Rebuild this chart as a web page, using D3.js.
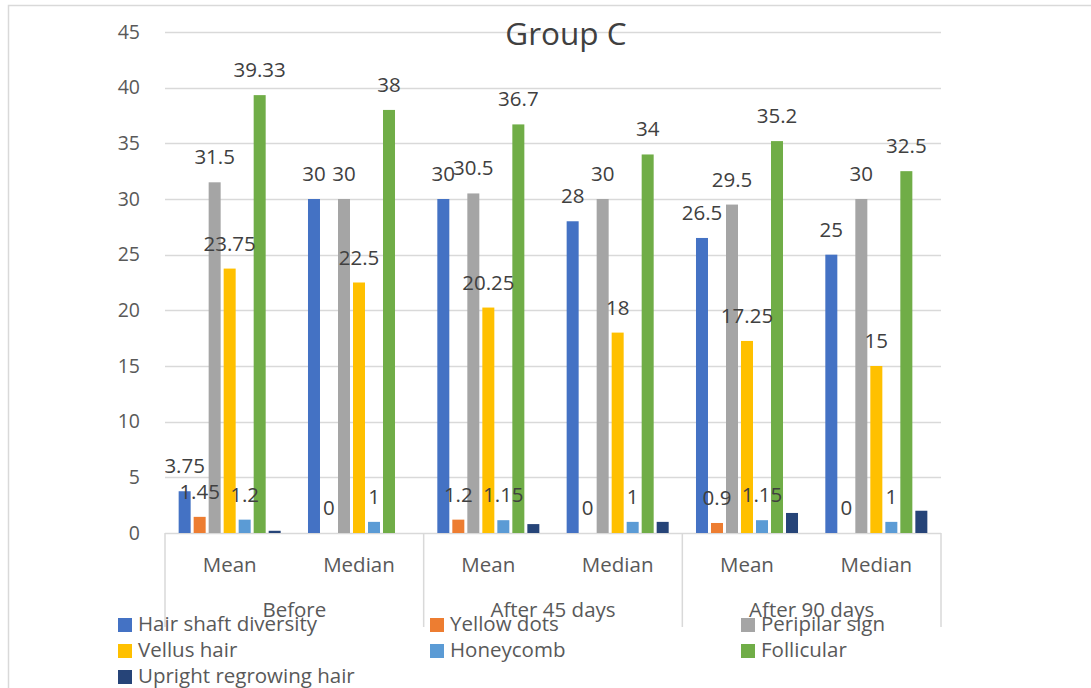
<!DOCTYPE html>
<html><head><meta charset="utf-8">
<script src="https://cdn.jsdelivr.net/npm/d3@7"></script>
<style>body{margin:0;background:#fff;}svg{display:block;font-family:"Open Sans",sans-serif;}</style>
</head><body><svg id="c" width="1091" height="688"></svg>
<script>
const groups = ["Before", "After 45 days", "After 90 days"];
const stats = ["Mean", "Median"];
const seriesNames = ["Hair shaft diversity", "Yellow dots", "Peripilar sign", "Vellus hair", "Honeycomb", "Follicular", "Upright regrowing hair"];
const seriesColors = ["#4472C4", "#ED7D31", "#A5A5A5", "#FFC000", "#5B9BD5", "#70AD47", "#264478"];
const hairShaft  = [3.75, 30, 30, 28, 26.5, 25];
const yellowDots = [1.45, 0, 1.2, 0, 0.9, 0];
const peripilar  = [31.5, 30, 30.5, 30, 29.5, 30];
const vellus     = [23.75, 22.5, 20.25, 18, 17.25, 15];
const honeycomb  = [1.2, 1, 1.15, 1, 1.15, 1];
const follicular = [39.33, 38, 36.7, 34, 35.2, 32.5];
const upright    = [0.2, 0, 0.8, 1, 1.8, 2];
const showLabel  = [true, true, true, true, true, true, false];
const yTicks = [0, 5, 10, 15, 20, 25, 30, 35, 40, 45];

const seriesValues = [hairShaft, yellowDots, peripilar, vellus, honeycomb, follicular, upright];
const cats = [];
groups.forEach(g => stats.forEach(s => cats.push(g + "|" + s)));

const svg = d3.select("#c");
const L = 165, R = 941, T = 32, B = 533;

svg.append("rect").attr("x", 8.5).attr("y", 5.5).attr("width", 1100).attr("height", 700)
  .attr("fill", "none").attr("stroke", "#d9d9d9").attr("stroke-width", 1.5);

const y = d3.scaleLinear().domain([0, 45]).range([B, T]);
const x0 = d3.scaleBand().domain(cats).range([L, R]).padding(0);
const x1 = d3.scaleBand().domain(seriesNames).range([0, x0.bandwidth()]).paddingInner(0.2).paddingOuter(0.91);
const xg = d3.scaleBand().domain(groups).range([L, R]).padding(0);

// gridlines
svg.append("g").selectAll("line").data(yTicks).join("line")
  .attr("x1", L).attr("x2", R).attr("y1", d => Math.round(y(d)) + 0.5).attr("y2", d => Math.round(y(d)) + 0.5)
  .attr("stroke", "#d9d9d9").attr("stroke-width", 1.5);

// y axis
const ya = svg.append("g").attr("transform", `translate(${L},0)`)
  .call(d3.axisLeft(y).tickValues(yTicks).tickSize(0).tickPadding(25));
ya.select(".domain").remove();
ya.selectAll("text").attr("fill", "#595959").style("font-size", "19.5px").style("font-family", "'Open Sans',sans-serif");

// bars
const rows = cats.map((c, i) => ({ cat: c, vals: seriesNames.map((s, k) => ({ s, k, v: seriesValues[k][i] })) }));
const gBars = svg.append("g").selectAll("g").data(rows).join("g")
  .attr("transform", d => `translate(${x0(d.cat)},0)`);
gBars.selectAll("rect").data(d => d.vals).join("rect")
  .attr("x", d => x1(d.s)).attr("width", x1.bandwidth())
  .attr("y", d => y(d.v)).attr("height", d => B - y(d.v))
  .attr("fill", d => seriesColors[d.k]);
gBars.selectAll("text").data(d => d.vals.filter(v => showLabel[v.k])).join("text")
  .attr("x", d => x1(d.s) + x1.bandwidth() / 2).attr("y", d => y(d.v) - 18)
  .attr("text-anchor", "middle").attr("fill", "#404040").style("font-size", "20.5px")
  .text(d => String(d.v));

// category axis separators
svg.append("g").selectAll("line").data([L, ...groups.map(g => xg(g) + xg.bandwidth())]).join("line")
  .attr("x1", d => d).attr("x2", d => d).attr("y1", B).attr("y2", 627)
  .attr("stroke", "#d9d9d9").attr("stroke-width", 1.5);

// sub-category labels
svg.append("g").selectAll("text").data(cats).join("text")
  .attr("x", d => x0(d) + x0.bandwidth() / 2).attr("y", 572)
  .attr("text-anchor", "middle").attr("fill", "#595959").style("font-size", "20.5px")
  .text(d => d.split("|")[1]);
svg.append("g").selectAll("text").data(groups).join("text")
  .attr("x", d => xg(d) + xg.bandwidth() / 2).attr("y", 617)
  .attr("text-anchor", "middle").attr("fill", "#595959").style("font-size", "20.5px")
  .text(d => d);

// title
svg.append("text").attr("x", 566).attr("y", 45).attr("text-anchor", "middle")
  .attr("fill", "#404040").style("font-size", "31.5px").text("Group C");

// legend
const legX = [118, 430, 741], legY = [618, 644, 670];
const leg = svg.append("g").selectAll("g").data(seriesNames).join("g")
  .attr("transform", (d, i) => `translate(${legX[i % 3]},${legY[Math.floor(i / 3)]})`);
leg.append("rect").attr("width", 14).attr("height", 14).attr("fill", (d, i) => seriesColors[i]);
leg.append("text").attr("x", 20).attr("y", 13).attr("fill", "#595959").style("font-size", "20.5px").text(d => d);
</script></body></html>
